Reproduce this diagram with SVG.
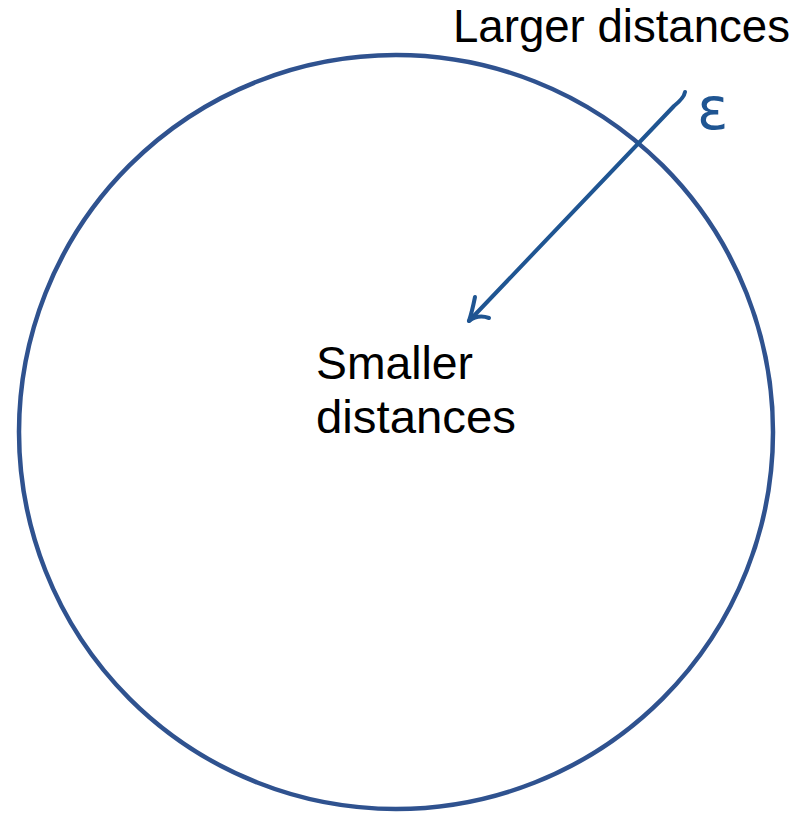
<svg xmlns="http://www.w3.org/2000/svg" width="800" height="815" viewBox="0 0 800 815">
<style>
.lbl{font-family:"Liberation Sans",Arial,sans-serif;font-size:46px;fill:#000}
.ink{fill:none;stroke:#1F5592;stroke-width:4;stroke-linecap:round;stroke-linejoin:round}
</style>
<rect width="800" height="815" fill="#fff"/>
<g id="circle">
<circle cx="396" cy="432" r="377" fill="none" stroke="#2F528F" stroke-width="4.5"/>
</g>
<g id="connectors">
<path class="ink" d="M685,92 Q684,98 674,106 L469,321"/>
<path class="ink" d="M475,297 Q472,312 469,321 Q478,314 489,318"/>
</g>
<g id="epsilon">
<text x="697" y="129" style="font-family:'DejaVu Sans',sans-serif;font-size:58px;fill:#1F5592">ε</text>
</g>
<g id="larger">
<text class="lbl" x="453" y="42" textLength="337" lengthAdjust="spacingAndGlyphs">Larger distances</text>
</g>
<g id="smaller">
<text class="lbl" x="316" y="379" textLength="157" lengthAdjust="spacingAndGlyphs">Smaller</text>
<text class="lbl" x="316" y="433" textLength="200" lengthAdjust="spacingAndGlyphs">distances</text>
</g>
</svg>
